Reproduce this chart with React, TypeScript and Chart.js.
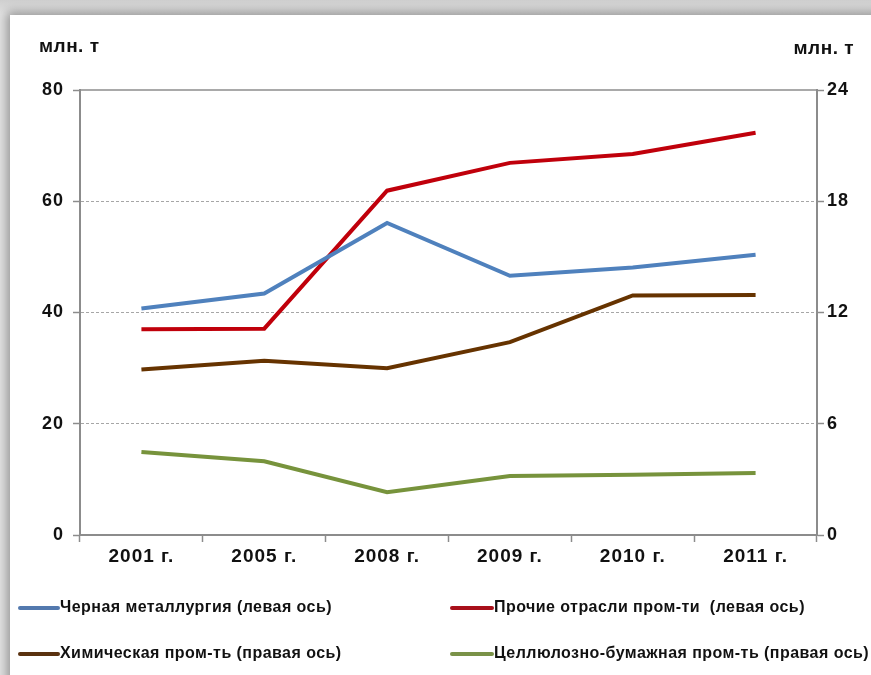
import React, { useEffect, useRef } from "react";
import { Chart, registerables } from "chart.js";

Chart.register(...registerables);

const categories = ["2001 г.", "2005 г.", "2008 г.", "2009 г.", "2010 г.", "2011 г."];
const ferrousMetallurgy = [40.7, 43.4, 56.1, 46.6, 48.1, 50.4];
const otherIndustries = [37.0, 37.1, 61.9, 66.9, 68.5, 72.3];
const chemicalIndustry = [8.93, 9.4, 9.0, 10.4, 12.92, 12.95];
const pulpPaperIndustry = [4.47, 3.98, 2.31, 3.18, 3.25, 3.34];

const seriesLabels = [
  "Черная металлургия (левая ось)",
  "Прочие отрасли пром-ти  (левая ось)",
  "Химическая пром-ть (правая ось)",
  "Целлюлозно-бумажная пром-ть (правая ось)",
];
const seriesColors = ["#4F81BD", "#C0000B", "#663300", "#77933C"];
const legendColors = ["#5379AE", "#A8101A", "#5A3210", "#7A9248"];
const unitLabel = "млн. т";

const AXIS_GRAY = "#8C8C8C";
const FONT = "'Liberation Sans', Arial, sans-serif";

const decorPlugin = {
  id: "decor",
  beforeDraw(chart: any) {
    (chart.ctx as any).letterSpacing = "1px";
  },
  beforeDatasetsDraw(chart: any) {
    const { ctx, chartArea } = chart;
    ctx.save();
    ctx.strokeStyle = AXIS_GRAY;
    ctx.lineWidth = 1.5;
    ctx.beginPath();
    ctx.moveTo(chartArea.left, chartArea.top);
    ctx.lineTo(chartArea.right, chartArea.top);
    ctx.stroke();
    ctx.restore();
  },
  afterDraw(chart: any) {
    const { ctx } = chart;
    ctx.save();
    ctx.fillStyle = "#111";
    (ctx as any).letterSpacing = "0.5px";
    ctx.font = `bold 19px ${FONT}`;
    ctx.textBaseline = "alphabetic";
    ctx.textAlign = "left";
    ctx.fillText(unitLabel, 39, 52);
    ctx.textAlign = "right";
    ctx.fillText(unitLabel, 854, 54);

    // legend
    const rows = [608, 654];
    const cols = [
      { x0: 20, x1: 58, tx: 60 },
      { x0: 452, x1: 492, tx: 494 },
    ];
    ctx.font = `bold 16px ${FONT}`;
    (ctx as any).letterSpacing = "0.45px";
    ctx.textAlign = "left";
    ctx.textBaseline = "middle";
    seriesLabels.forEach((label, i) => {
      const r = Math.floor(i / 2);
      const c = i % 2;
      const y = rows[r];
      const col = cols[c];
      ctx.strokeStyle = legendColors[i];
      ctx.lineWidth = 4;
      ctx.lineCap = "round";
      ctx.beginPath();
      ctx.moveTo(col.x0, y);
      ctx.lineTo(col.x1, y);
      ctx.stroke();
      ctx.fillStyle = "#111";
      ctx.fillText(label, col.tx, y);
    });
    ctx.restore();
  },
};

export default function App() {
  const canvasRef = useRef<HTMLCanvasElement | null>(null);

  useEffect(() => {
    if (!canvasRef.current) return;
    const mk = (i: number, data: number[], axis: string) => ({
      label: seriesLabels[i],
      data,
      yAxisID: axis,
      borderColor: seriesColors[i],
      backgroundColor: seriesColors[i],
      borderWidth: 4,
      pointRadius: 0,
      tension: 0,
    });
    const chart = new Chart(canvasRef.current, {
      type: "line",
      data: {
        labels: categories,
        datasets: [
          mk(0, ferrousMetallurgy, "y"),
          mk(1, otherIndustries, "y"),
          mk(2, chemicalIndustry, "y1"),
          mk(3, pulpPaperIndustry, "y1"),
        ],
      },
      options: {
        animation: false,
        responsive: false,
        maintainAspectRatio: false,
        layout: { padding: { top: 90, left: 0, right: 0, bottom: 0 } },
        plugins: {
          legend: { display: false },
          tooltip: { enabled: false },
        },
        scales: {
          x: {
            offset: true,
            afterFit(scale: any) {
              scale.height = 140;
            },
            grid: {
              offset: true,
              drawOnChartArea: false,
              drawTicks: true,
              tickLength: 7,
              tickColor: AXIS_GRAY,
              tickWidth: 1.5,
            },
            border: { display: true, color: AXIS_GRAY, width: 2 },
            ticks: {
              color: "#111",
              font: { family: FONT, size: 19, weight: "bold" },
              padding: 3,
              maxRotation: 0,
            },
          },
          y: {
            position: "left",
            min: 0,
            max: 80,
            afterFit(scale: any) {
              scale.width = 80;
            },
            ticks: {
              stepSize: 20,
              color: "#111",
              font: { family: FONT, size: 18, weight: "bold" },
              padding: 9,
            },
            grid: {
              drawTicks: true,
              tickLength: 7,
              tickColor: AXIS_GRAY,
              tickWidth: 1.5,
              tickBorderDash: [],
              lineWidth: 1,
              color: (ctx: any) =>
                ctx.tick && (ctx.tick.value === 0 || ctx.tick.value === 80)
                  ? "rgba(0,0,0,0)"
                  : "#A6A6A6",
            },
            border: { display: true, color: AXIS_GRAY, width: 2, dash: [3, 2] },
          },
          y1: {
            position: "right",
            min: 0,
            max: 24,
            afterFit(scale: any) {
              scale.width = 54;
            },
            ticks: {
              stepSize: 6,
              color: "#111",
              font: { family: FONT, size: 18, weight: "bold" },
              padding: 3,
            },
            grid: {
              drawOnChartArea: false,
              drawTicks: true,
              tickLength: 7,
              tickColor: AXIS_GRAY,
              tickWidth: 1.5,
            },
            border: { display: true, color: AXIS_GRAY, width: 2 },
          },
        },
      },
      plugins: [decorPlugin],
    });
    return () => chart.destroy();
  }, []);

  return (
    <div
      style={{
        position: "fixed",
        left: 0,
        top: 0,
        width: 871,
        height: 675,
        overflow: "hidden",
        background: "linear-gradient(180deg, #cfcfcf 0px, #e2e2e2 14px)",
      }}
    >
      <div
        style={{
          position: "absolute",
          left: 10,
          top: 15,
          width: 900,
          height: 700,
          background: "#ffffff",
          boxShadow: "-3px -3px 10px rgba(0,0,0,0.35)",
        }}
      />
      <canvas
        ref={canvasRef}
        width={871}
        height={675}
        style={{ position: "absolute", left: 0, top: 0, width: 871, height: 675 }}
      />
    </div>
  );
}
